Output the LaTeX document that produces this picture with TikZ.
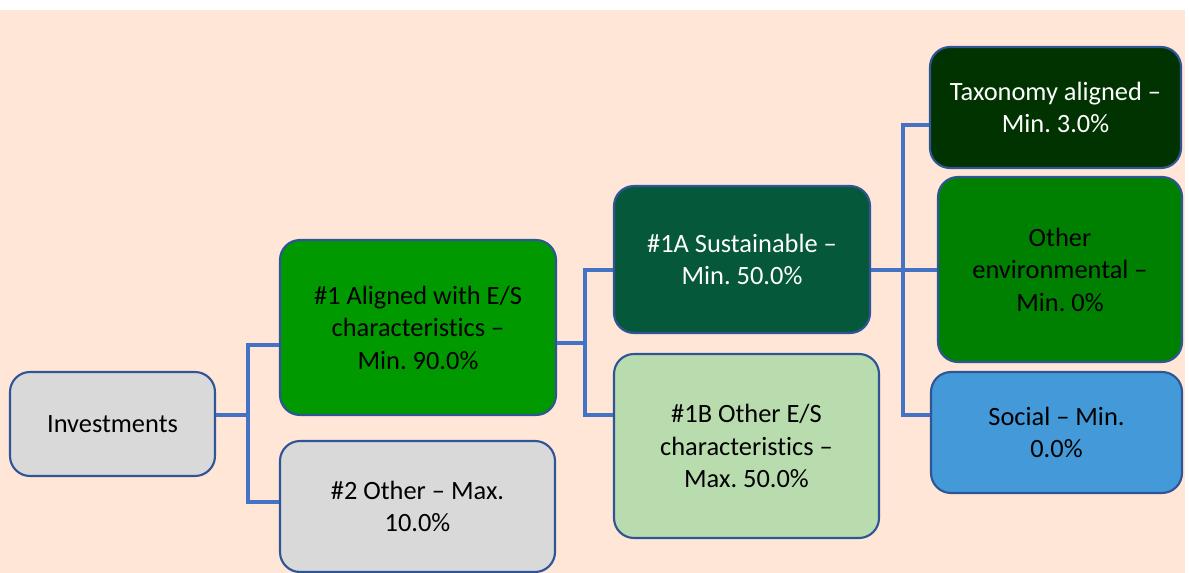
\documentclass[tikz,border=0pt]{standalone}
\usepackage{fontspec}
\setmainfont{Carlito}[Ligatures={NoCommon}]
\frenchspacing
\definecolor{peach}{HTML}{FFE6D6}
\definecolor{bord}{HTML}{2F5597}
\definecolor{conncol}{HTML}{4472C4}
\definecolor{gry}{HTML}{D9D9D9}
\definecolor{gA}{HTML}{009900}
\definecolor{gB}{HTML}{06583A}
\definecolor{gC}{HTML}{B9DCAE}
\definecolor{gD}{HTML}{003300}
\definecolor{gE}{HTML}{008000}
\definecolor{blu}{HTML}{4499D8}
\tikzset{
  box/.style={draw=bord, line width=1.6pt, rounded corners=15pt, align=center,
    inner sep=0pt, font=\fontsize{19.8pt}{24.4pt}\selectfont},
  conn/.style={draw=conncol, line width=3pt}
}
\begin{document}
\begin{tikzpicture}[x=0.75pt,y=-0.75pt]
\useasboundingbox (0,0) rectangle (1189,573);
\fill[white] (0,0) rectangle (1189,573);
\fill[peach] (0,10) rectangle (1185,573);

\node[box, fill=gry, minimum width=153.75pt, minimum height=78pt] (inv) at (112.5,424) {Investments};
\node[box, fill=gA, minimum width=207pt, minimum height=131.25pt] (a1) at (418,327.5) {\#1 Aligned with E/S\\characteristics –\\Min. 90.0\%};
\node[box, fill=gry, minimum width=206.25pt, minimum height=98.25pt] (o2) at (417.5,506.5) {\#2 Other – Max.\\10.0\%};
\node[box, fill=gB, text=white, minimum width=192pt, minimum height=110.25pt] (a1A) at (742,259.5) {\#1A Sustainable –\\Min. 50.0\%};
\node[box, fill=gC, minimum width=198.75pt, minimum height=138pt] (b1B) at (746.5,446) {\#1B Other E/S\\characteristics –\\Max. 50.0\%};
\node[box, fill=gD, text=white, minimum width=188.25pt, minimum height=90.75pt] (tax) at (1055.5,107.5) {Taxonomy aligned –\\Min. 3.0\%};
\node[box, fill=gE, minimum width=183pt, minimum height=138.75pt] (env) at (1060,269.5) {Other\\environmental –\\Min. 0\%};
\node[box, fill=blu, minimum width=188.25pt, minimum height=90.75pt] (soc) at (1056.5,432.5) {Social – Min.\\0.0\%};

% bus 1
\coordinate (p0) at (248,415);
\coordinate (p1) at (248,345);
\coordinate (p2) at (248,502);
\draw[conn] (p0 -| inv.east) -- (p0);
\draw[conn] (p1 -| a1.west) -- (p1) -- (p2) -- (p2 -| o2.west);
% bus 2
\coordinate (q0) at (585,343);
\coordinate (q1) at (585,270);
\coordinate (q2) at (585,415);
\draw[conn] (q0 -| a1.east) -- (q0);
\draw[conn] (q1 -| a1A.west) -- (q1) -- (q2) -- (q2 -| b1B.west);
% bus 3
\coordinate (r0) at (903,270);
\coordinate (r1) at (903,125);
\coordinate (r2) at (903,415);
\draw[conn] (r0 -| a1A.east) -- (r0 -| env.west);
\draw[conn] (r1 -| tax.west) -- (r1) -- (r2) -- (r2 -| soc.west);
\end{tikzpicture}
\end{document}
